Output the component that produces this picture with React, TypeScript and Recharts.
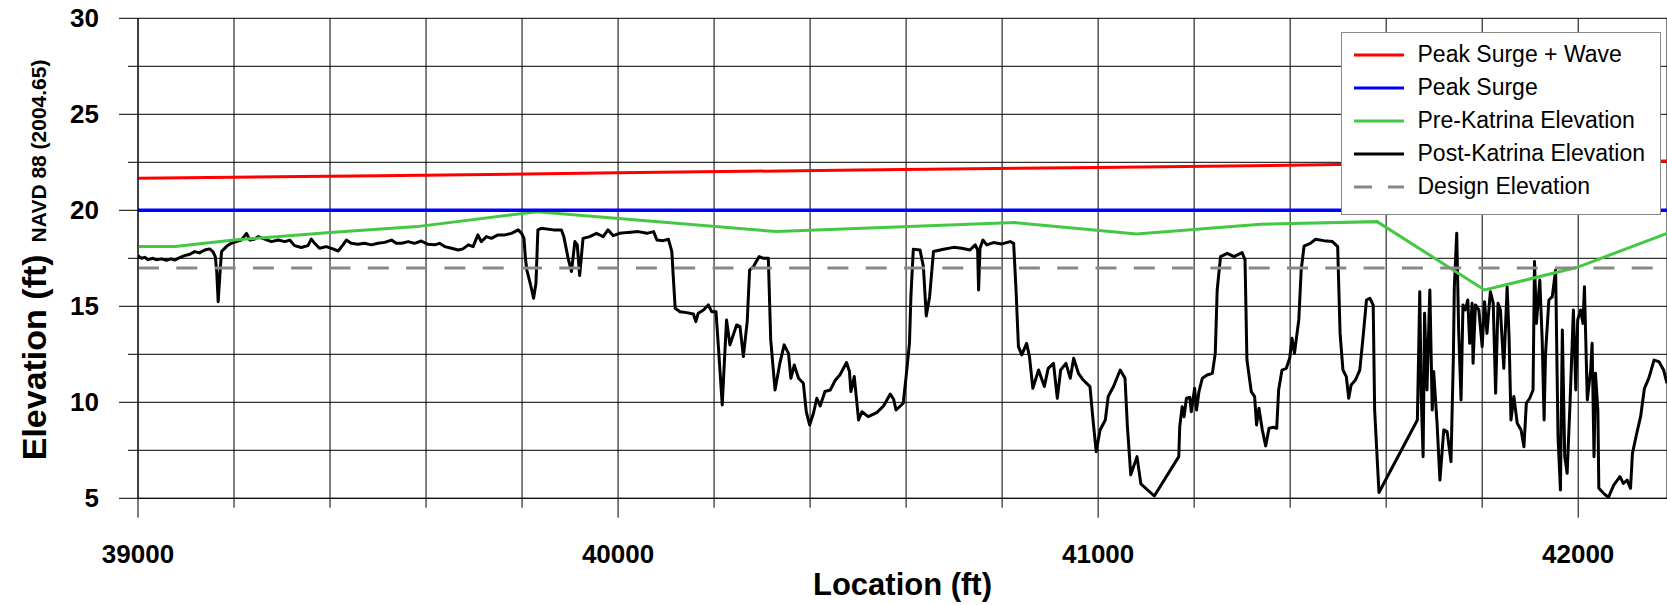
import { LineChart, Line, XAxis, YAxis, CartesianGrid } from 'recharts';

// Levee crest profile, station 39000 - 42185 ft
const xTicks = [39000, 39200, 39400, 39600, 39800, 40000, 40200, 40400, 40600, 40800, 41000, 41200, 41400, 41600, 41800, 42000];
const yTicks = [5, 7.5, 10, 12.5, 15, 17.5, 20, 22.5, 25, 27.5, 30];

const surgeWaveX = [39000, 39500, 40000, 40500, 41000, 41500, 42000, 42185];
const surgeWaveY = [21.67, 21.8, 21.95, 22.1, 22.23, 22.38, 22.52, 22.57];

const surgeX = [39000, 42185];
const surgeY = [20, 20];

const preX = [39000, 39077, 39200, 39400, 39581, 39831, 40330, 40827, 41080, 41338, 41581, 41805, 41998, 42185];
const preY = [18.11, 18.11, 18.45, 18.85, 19.15, 19.93, 18.89, 19.36, 18.77, 19.27, 19.41, 15.85, 17.03, 18.8];

const designX = [39000, 42185];
const designY = [17, 17];

// post-Katrina survey, 39000 - 40042
const postX1 = [
  39000, 39007, 39014, 39021, 39031, 39038, 39049, 39059, 39069, 39076, 39087, 39097, 39108, 39118, 39128, 39139,
  39149, 39156, 39161, 39164, 39167, 39171, 39174, 39184, 39194, 39205, 39215, 39226, 39233, 39243, 39250, 39264,
  39278, 39292, 39306, 39316, 39326, 39340, 39354, 39361, 39368, 39378, 39392, 39406, 39417, 39427, 39434, 39444,
  39458, 39472, 39486, 39500, 39514, 39528, 39538, 39549, 39563, 39576, 39590, 39604, 39618, 39628, 39639, 39653,
  39667, 39677, 39688, 39698, 39708, 39715, 39726, 39736, 39750, 39764, 39778, 39792, 39799, 39804, 39807, 39810,
  39817, 39824, 39829, 39833, 39840, 39865, 39882, 39887, 39896, 39903, 39910, 39915, 39920, 39927, 39941, 39955,
  39969, 39979, 39990, 40003, 40021, 40042,
];
const postY1 = [
  17.64, 17.5, 17.55, 17.43, 17.5, 17.43, 17.47, 17.4, 17.47, 17.41, 17.53, 17.64, 17.71, 17.85, 17.78, 17.93,
  17.99, 17.85, 17.59, 16.81, 15.24, 16.81, 17.85, 18.11, 18.28, 18.37, 18.45, 18.8, 18.45, 18.5, 18.63, 18.5,
  18.37, 18.45, 18.37, 18.45, 18.16, 18.06, 18.16, 18.5, 18.28, 18.02, 18.11, 17.99, 17.88, 18.2, 18.45, 18.28,
  18.23, 18.28, 18.2, 18.28, 18.33, 18.45, 18.28, 18.28, 18.37, 18.28, 18.4, 18.23, 18.2, 18.28, 18.11, 18.02,
  17.93, 17.99, 18.2, 18.11, 18.72, 18.37, 18.63, 18.54, 18.72, 18.72, 18.8, 18.98, 18.8, 18.54, 17.5, 16.89,
  16.2, 15.42, 16.2, 18.98, 19.06, 18.98, 18.98, 18.63, 17.5, 16.81, 18.37, 18.2, 16.6, 18.54, 18.63, 18.8,
  18.63, 18.98, 18.68, 18.8, 18.85, 18.89,
];

// 40060 - 41117
const postX2 = [
  40060, 40074, 40081, 40094, 40105, 40112, 40115, 40119, 40129, 40143, 40157, 40162, 40167, 40178, 40188, 40195,
  40204, 40209, 40217, 40222, 40226, 40233, 40247, 40254, 40261, 40269, 40274, 40282, 40294, 40303, 40313, 40318,
  40327, 40337, 40346, 40355, 40360, 40367, 40376, 40386, 40392, 40399, 40407, 40414, 40421, 40431, 40442, 40452,
  40462, 40476, 40482, 40485, 40492, 40501, 40508, 40521, 40539, 40553, 40567, 40574, 40579, 40594, 40600, 40607,
  40610, 40615, 40629, 40636, 40642, 40649, 40657, 40678, 40699, 40716, 40733, 40744, 40749, 40751, 40754, 40760,
  40768, 40782, 40799, 40817, 40824, 40829, 40834, 40841, 40851, 40857, 40864, 40876, 40888, 40896, 40907, 40915,
  40922, 40933, 40942, 40949, 40959, 40969, 40983, 40990, 40996, 41004, 41015, 41021, 41032, 41046, 41056, 41061,
  41068, 41081, 41089, 41117,
];
const postY2 = [
  18.8, 18.89, 18.45, 18.42, 18.49, 17.85, 16.55, 14.9, 14.72, 14.67, 14.6, 14.2, 14.64, 14.81, 15.07, 14.72,
  14.72, 12.9, 9.86, 12.38, 14.29, 12.99, 14.03, 13.94, 12.38, 14.2, 16.89, 17.07, 17.59, 17.5, 17.5, 13.25,
  10.64, 12.03, 12.99, 12.55, 11.25, 11.94, 11.25, 10.99, 9.51, 8.82, 9.43, 10.21, 9.81, 10.56, 10.64, 11.13,
  11.42, 12.07, 11.6, 10.56, 11.34, 9.08, 9.51, 9.25, 9.46, 9.81, 10.43, 10.16, 9.6, 9.95, 11.34, 13.07,
  15.5, 17.97, 17.93, 17.07, 14.5, 15.5, 17.85, 17.97, 18.07, 18.02, 17.93, 18.2, 17.93, 15.85, 18.02, 18.45,
  18.2, 18.32, 18.25, 18.37, 18.28, 15.85, 12.9, 12.47, 13.07, 12.38, 10.73, 11.68, 10.82, 11.77, 12.03, 10.21,
  11.68, 12.03, 11.25, 12.29, 11.51, 11.16, 10.82, 8.91, 7.43, 8.56, 9.08, 10.3, 10.82, 11.68, 11.25, 8.73,
  6.22, 7.17, 5.75, 5.12,
];

// 41168 - 42185
const postX3 = [
  41168, 41170, 41175, 41179, 41184, 41191, 41194, 41201, 41205, 41210, 41217, 41227, 41238, 41244, 41248, 41255,
  41269, 41283, 41300, 41306, 41310, 41319, 41326, 41330, 41335, 41342, 41349, 41356, 41365, 41372, 41376, 41383,
  41392, 41399, 41404, 41409, 41418, 41423, 41429, 41442, 41453, 41470, 41488, 41499, 41504, 41510, 41517, 41522,
  41527, 41536, 41545, 41552, 41559, 41566, 41573, 41576, 41585, 41665, 41670, 41673, 41677, 41680, 41685, 41691,
  41696, 41699, 41706, 41712, 41720, 41727, 41735, 41740, 41742, 41747, 41751, 41756, 41760, 41765, 41770, 41774,
  41779, 41781, 41786, 41793, 41800, 41805, 41810, 41817, 41823, 41828, 41833, 41838, 41845, 41852, 41856, 41860,
  41866, 41873, 41881, 41887, 41892, 41899, 41906, 41909, 41913, 41920, 41925, 41929, 41932, 41939, 41946, 41953,
  41958, 41963, 41967, 41972, 41977, 41983, 41990, 41995, 41999, 42005, 42010, 42013, 42019, 42026, 42029, 42033,
  42036, 42041, 42043, 42053, 42063, 42074, 42087, 42094, 42102, 42109, 42113, 42122, 42130, 42138, 42147, 42158,
  42168, 42178, 42185,
];
const postY3 = [
  7.17, 8.73, 9.77, 9.25, 10.21, 10.26, 9.51, 10.73, 9.6, 10.56, 11.25, 11.42, 11.51, 12.55, 15.85, 17.59,
  17.76, 17.59, 17.8, 17.41, 12.2, 10.56, 10.3, 8.82, 9.69, 8.56, 7.73, 8.65, 8.7, 8.65, 10.64, 11.68,
  11.77, 12.29, 13.33, 12.55, 14.29, 16.89, 18.14, 18.28, 18.49, 18.42, 18.37, 18.11, 13.59, 11.68, 11.34, 10.21,
  10.9, 11.16, 11.68, 13.42, 15.33, 15.42, 15.07, 9.6, 5.3, 9.08, 15.76, 10.3, 7.17, 14.64, 10.64, 15.85,
  9.6, 11.6, 8.91, 5.95, 8.56, 8.47, 6.91, 12.38, 16.02, 18.8, 13.77, 10.12, 15.07, 14.81, 15.33, 13.07,
  15.16, 12.03, 15.07, 14.81, 12.9, 15.24, 13.59, 15.76, 15.16, 10.47, 15.16, 14.81, 11.77, 16.02, 13.42, 9.08,
  10.3, 8.91, 8.56, 7.69, 9.95, 10.21, 10.64, 17.33, 14.11, 16.37, 13.25, 9.08, 12.55, 15.33, 15.5, 16.89,
  8.21, 5.43, 13.77, 7.17, 6.3, 9.95, 14.81, 10.64, 14.29, 14.81, 14.11, 16.02, 10.12, 11.68, 13.07, 7.17,
  11.51, 9.6, 5.52, 5.26, 5.05, 5.69, 6.13, 5.78, 5.95, 5.52, 7.34, 8.39, 9.25, 10.73, 11.25, 12.2,
  12.12, 11.68, 10.99,
];

const postX = [...postX1, ...postX2, ...postX3];
const postY = [...postY1, ...postY2, ...postY3];

const zip = (xs: number[], ys: number[]) => xs.map((x, i) => ({ x, y: ys[i] }));

const FONT = '"Liberation Sans", Arial, Helvetica, sans-serif';

const legendItems = [
  { name: 'Peak Surge + Wave', color: '#ff0000', dash: undefined },
  { name: 'Peak Surge', color: '#0000ff', dash: undefined },
  { name: 'Pre-Katrina Elevation', color: '#44c844', dash: undefined },
  { name: 'Post-Katrina Elevation', color: '#000000', dash: undefined },
  { name: 'Design Elevation', color: '#888888', dash: '18 16' },
];

function YTick(props: any) {
  const { x, y, payload } = props;
  const major = payload.value % 5 === 0;
  return (
    <g>
      <line x1={x - (major ? 19 : 10)} x2={x} y1={y} y2={y} stroke="#000" strokeWidth={1} />
      {major && (
        <text x={x - 39} y={y} textAnchor="end" dominantBaseline="central" fontFamily={FONT} fontWeight="bold" fontSize={26} fill="#000">
          {payload.value}
        </text>
      )}
    </g>
  );
}

function XTick(props: any) {
  const { x, y, payload } = props;
  const major = payload.value % 1000 === 0;
  return (
    <g>
      <line x1={x} x2={x} y1={y} y2={y + (major ? 19.4 : 9.4)} stroke="#000" strokeWidth={1} />
      {major && (
        <text x={x} y={y + 56} textAnchor="middle" dominantBaseline="central" fontFamily={FONT} fontWeight="bold" fontSize={26} fill="#000">
          {payload.value}
        </text>
      )}
    </g>
  );
}

function XTitle(props: any) {
  const { viewBox } = props;
  return (
    <text x={viewBox.x + viewBox.width / 2} y={viewBox.y + 96.7} textAnchor="middle" fontFamily={FONT} fontWeight="bold" fontSize={31} fill="#000">
      Location (ft)
    </text>
  );
}

function YTitle(props: any) {
  const { viewBox } = props;
  const tx = viewBox.x + 46;
  const ty = viewBox.y + 442;
  return (
    <text x={tx} y={ty} transform={`rotate(-90, ${tx}, ${ty})`} textAnchor="start" fontFamily={FONT} fontWeight="bold" fill="#000">
      <tspan fontSize={34}>Elevation (ft)</tspan>
      <tspan fontSize={21} dx={12}>NAVD 88 (2004.65)</tspan>
    </text>
  );
}

function LegendBox() {
  return (
    <div
      style={{
        position: 'absolute',
        left: 1340.5,
        top: 32.3,
        width: 320,
        height: 183,
        boxSizing: 'border-box',
        border: '1.5px solid #8a8a8a',
        background: '#fff',
        paddingTop: 5,
        fontFamily: FONT,
        fontSize: 23,
        color: '#000',
      }}
    >
      {legendItems.map((it) => (
        <div key={it.name} style={{ height: 33, display: 'flex', alignItems: 'center' }}>
          <svg width={50} height={6} style={{ marginLeft: 12 }}>
            <line x1={0} x2={50} y1={3} y2={3} stroke={it.color} strokeWidth={3} strokeDasharray={it.dash} />
          </svg>
          <span style={{ marginLeft: 14, whiteSpace: 'nowrap' }}>{it.name}</span>
        </div>
      ))}
    </div>
  );
}

export default function App() {
  return (
    <div style={{ position: 'absolute', left: 0, top: 0, width: 1667, height: 605, background: '#fff', overflow: 'hidden' }}>
      <LineChart width={1667} height={605} margin={{ top: 18.3, right: 0, bottom: 26.7, left: 0 }}>
        <CartesianGrid stroke="#000" strokeWidth={1} />
        <XAxis
          dataKey="x"
          type="number"
          domain={[39000, 42185]}
          allowDataOverflow
          ticks={xTicks}
          interval={0}
          height={80}
          tickSize={0}
          tickMargin={0}
          tickLine={false}
          axisLine={{ stroke: '#000' }}
          tick={<XTick />}
          label={<XTitle />}
        />
        <YAxis
          dataKey="y"
          type="number"
          domain={[5, 30]}
          allowDataOverflow
          ticks={yTicks}
          interval={0}
          width={138}
          tickSize={0}
          tickMargin={0}
          tickLine={false}
          axisLine={{ stroke: '#000' }}
          tick={<YTick />}
          label={<YTitle />}
        />
        <Line data={zip(postX, postY)} dataKey="y" name="Post-Katrina Elevation" stroke="#000" strokeWidth={3} dot={false} isAnimationActive={false} strokeLinejoin="round" />
        <Line data={zip(preX, preY)} dataKey="y" name="Pre-Katrina Elevation" stroke="#44c844" strokeWidth={3} dot={false} isAnimationActive={false} />
        <Line data={zip(designX, designY)} dataKey="y" name="Design Elevation" stroke="#888888" strokeWidth={3} strokeDasharray="21 17.3" dot={false} isAnimationActive={false} />
        <Line data={zip(surgeX, surgeY)} dataKey="y" name="Peak Surge" stroke="#0000ff" strokeWidth={3.5} dot={false} isAnimationActive={false} />
        <Line data={zip(surgeWaveX, surgeWaveY)} dataKey="y" name="Peak Surge + Wave" stroke="#ff0000" strokeWidth={3} dot={false} isAnimationActive={false} />
      </LineChart>
      <LegendBox />
    </div>
  );
}
